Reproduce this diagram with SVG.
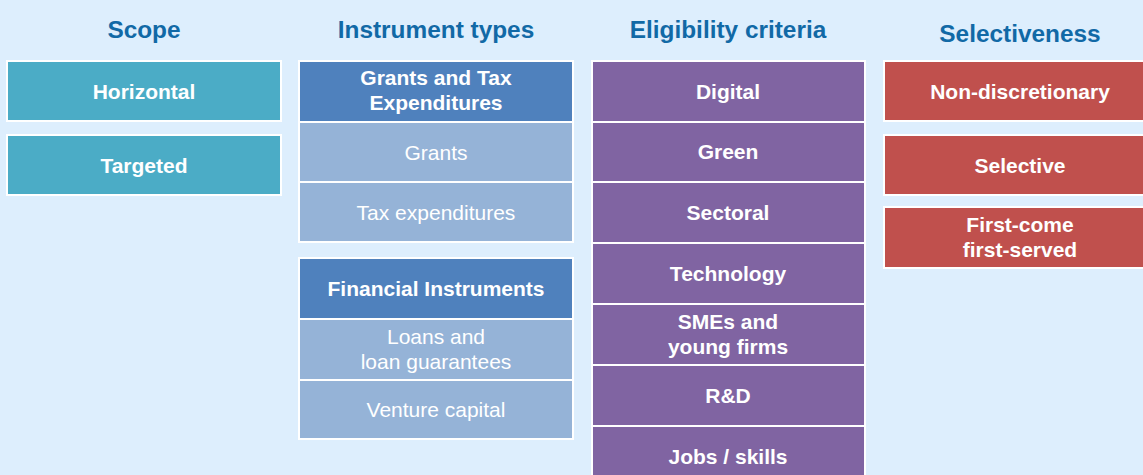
<svg xmlns="http://www.w3.org/2000/svg" width="1143" height="475" viewBox="0 0 1143 475">
<style>
.bg{fill:#DDEEFD}
.t{font-family:"Liberation Sans",Arial,sans-serif;font-weight:bold;font-size:24.4px;fill:#1169A6;text-anchor:middle}
.b{stroke:#FFFFFF;stroke-width:2}
.scope{fill:#4BACC6}
.hdr{fill:#4F81BD}
.sub{fill:#95B3D7}
.elig{fill:#8064A2}
.sel{fill:#C0504D}
.w{font-family:"Liberation Sans",Arial,sans-serif;font-weight:bold;font-size:21px;fill:#FFFFFF;text-anchor:middle}
.r{font-family:"Liberation Sans",Arial,sans-serif;font-size:21px;fill:#FFFFFF;text-anchor:middle}
</style>
<rect class="bg" x="0" y="0" width="1143" height="475"/>
<g id="titles">
<text class="t" x="144" y="38">Scope</text>
<text class="t" x="436" y="38">Instrument types</text>
<text class="t" x="728" y="38">Eligibility criteria</text>
<text class="t" x="1020" y="42">Selectiveness</text>
</g>
<g id="scope-horizontal"><rect class="b scope" x="7" y="61" width="274" height="60"/><text class="w" x="144" y="98.5">Horizontal</text></g>
<g id="scope-targeted"><rect class="b scope" x="7" y="135" width="274" height="60"/><text class="w" x="144" y="172.5">Targeted</text></g>

<g id="inst-grants-tax"><rect class="b hdr" x="299" y="61" width="274" height="61"/><text class="w" x="436" y="85">Grants and Tax</text><text class="w" x="436" y="110">Expenditures</text></g>
<g id="inst-grants"><rect class="b sub" x="299" y="122" width="274" height="60"/><text class="r" x="436" y="159.5">Grants</text></g>
<g id="inst-tax"><rect class="b sub" x="299" y="182" width="274" height="60"/><text class="r" x="436" y="219.5">Tax expenditures</text></g>
<g id="inst-financial"><rect class="b hdr" x="299" y="258" width="274" height="61"/><text class="w" x="436" y="295.5">Financial Instruments</text></g>
<g id="inst-loans"><rect class="b sub" x="299" y="319" width="274" height="61"/><text class="r" x="436" y="344">Loans and</text><text class="r" x="436" y="369">loan guarantees</text></g>
<g id="inst-vc"><rect class="b sub" x="299" y="380" width="274" height="59"/><text class="r" x="436" y="416.5">Venture capital</text></g>

<g id="elig-digital"><rect class="b elig" x="592" y="61" width="273" height="61"/><text class="w" x="728" y="98.5">Digital</text></g>
<g id="elig-green"><rect class="b elig" x="592" y="122" width="273" height="60"/><text class="w" x="728" y="159">Green</text></g>
<g id="elig-sectoral"><rect class="b elig" x="592" y="182" width="273" height="61"/><text class="w" x="728" y="220">Sectoral</text></g>
<g id="elig-technology"><rect class="b elig" x="592" y="243" width="273" height="61"/><text class="w" x="728" y="281">Technology</text></g>
<g id="elig-smes"><rect class="b elig" x="592" y="304" width="273" height="61"/><text class="w" x="728" y="328.5">SMEs and</text><text class="w" x="728" y="354">young firms</text></g>
<g id="elig-rd"><rect class="b elig" x="592" y="365" width="273" height="61"/><text class="w" x="728" y="403">R&amp;D</text></g>
<g id="elig-jobs"><rect class="b elig" x="592" y="426" width="273" height="61"/><text class="w" x="728" y="464">Jobs / skills</text></g>

<g id="sel-nondisc"><rect class="b sel" x="884" y="61" width="273" height="60"/><text class="w" x="1020" y="98.5">Non-discretionary</text></g>
<g id="sel-selective"><rect class="b sel" x="884" y="135" width="273" height="60"/><text class="w" x="1020" y="172.5">Selective</text></g>
<g id="sel-fcfs"><rect class="b sel" x="884" y="207" width="273" height="61"/><text class="w" x="1020" y="232">First-come</text><text class="w" x="1020" y="257">first-served</text></g>
<g id="connectors"/>
</svg>
